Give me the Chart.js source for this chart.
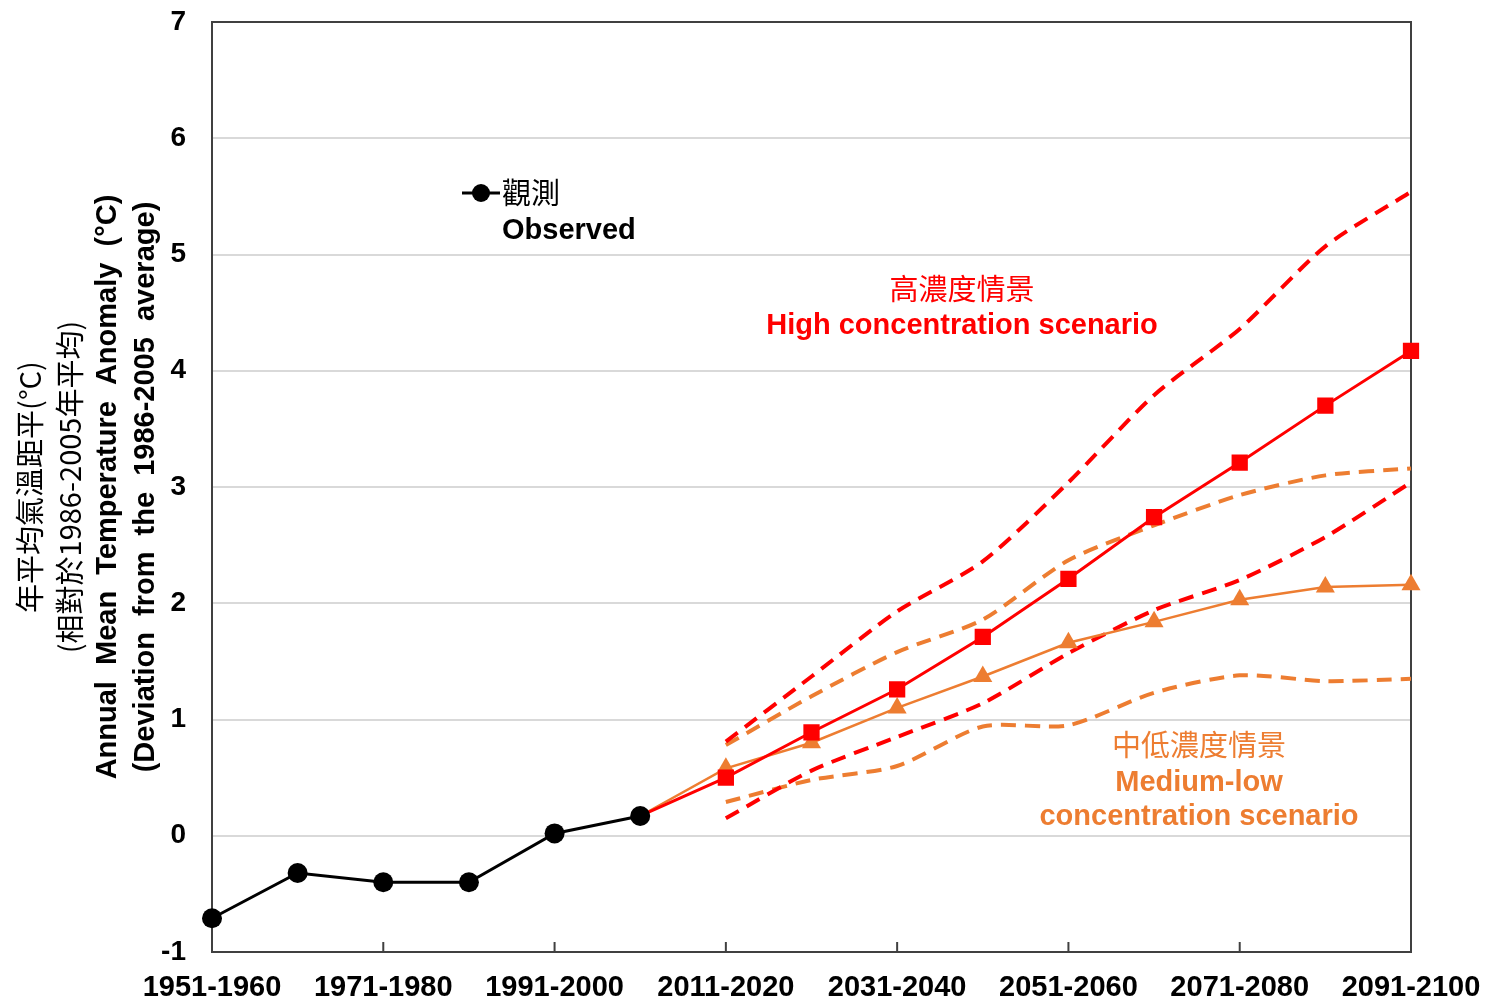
<!DOCTYPE html>
<html>
<head>
<meta charset="utf-8">
<script src="https://cdn.jsdelivr.net/npm/chart.js@4.4.0/dist/chart.umd.min.js"></script>
<style>
  html, body { margin: 0; padding: 0; background: #fff; }
  #contenedor { width: 1485px; height: 1001px; }
</style>
</head>
<body>
<div id="contenedor"><canvas id="grafica"></canvas></div>
<script>
// Décadas del eje x
const decadas = ['1951-1960', '1961-1970', '1971-1980', '1981-1990', '1991-2000',
                 '2001-2010', '2011-2020', '2021-2030', '2031-2040', '2041-2050',
                 '2051-2060', '2061-2070', '2071-2080', '2081-2090', '2091-2100'];

// Observado
const observado = [-0.71, -0.32, -0.40, -0.40, 0.02, 0.17, null, null, null, null, null, null, null, null, null];

// Escenario de alta concentración (media, rango superior e inferior)
const altoMedia    = [null, null, null, null, null, 0.17, 0.50, 0.89, 1.26, 1.71, 2.21, 2.74, 3.21, 3.70, 4.17];
const altoSuperior = [null, null, null, null, null, null, 0.81, 1.37, 1.93, 2.36, 3.04, 3.79, 4.36, 5.07, 5.54];
const altoInferior = [null, null, null, null, null, null, 0.15, 0.56, 0.85, 1.14, 1.57, 1.94, 2.20, 2.57, 3.04];

// Escenario medio-bajo
const medioMedia    = [null, null, null, null, null, 0.17, 0.58, 0.80, 1.10, 1.37, 1.66, 1.84, 2.03, 2.14, 2.16];
const medioSuperior = [null, null, null, null, null, null, 0.78, 1.20, 1.58, 1.86, 2.37, 2.67, 2.93, 3.10, 3.16];
const medioInferior = [null, null, null, null, null, null, 0.29, 0.48, 0.60, 0.94, 0.95, 1.23, 1.38, 1.33, 1.35];

// Eje y
const yMin = -1;
const yMax = 7;

const ROJO = '#ff0000';
const NARANJA = '#ed7d31';
const LATIN = "'Liberation Sans', Arial, sans-serif";
const CJK = "'Noto Sans CJK TC', 'Noto Sans CJK SC', sans-serif";

// Textos y marco dibujados a mano
const decoracion = {
    id: 'decoracion',
    beforeDatasetsDraw(chart) {
        const { ctx, chartArea: a, scales: { x } } = chart;
        ctx.save();
        ctx.strokeStyle = '#404040';
        ctx.lineWidth = 2;
        ctx.strokeRect(a.left, a.top, a.right - a.left, a.bottom - a.top);
        // marcas hacia adentro cada dos décadas
        decadas.forEach((d, i) => {
            if (i % 2 !== 0 || i === 0 || i === decadas.length - 1) return;
            const px = x.getPixelForValue(i);
            ctx.beginPath();
            ctx.moveTo(px, a.bottom);
            ctx.lineTo(px, a.bottom - 10);
            ctx.stroke();
        });
        ctx.restore();
    },
    afterDraw(chart) {
        const { ctx, chartArea: a, scales: { x } } = chart;
        ctx.save();

        // etiquetas del eje x
        ctx.fillStyle = '#000';
        ctx.font = 'bold 29px ' + LATIN;
        ctx.textAlign = 'center';
        ctx.textBaseline = 'middle';
        decadas.forEach((d, i) => {
            if (i % 2 !== 0) return;
            ctx.fillText(d, x.getPixelForValue(i), a.bottom + 36);
        });

        // título del eje y (rotado)
        const cy = (a.top + a.bottom) / 2;
        const lineas = [
            { t: '年平均氣溫距平(°C)', x: 30, f: '29px ' + CJK },
            { t: '(相對於1986-2005年平均)', x: 70, f: '29px ' + CJK },
            { t: 'Annual  Mean  Temperature  Anomaly  (°C)', x: 108, f: 'bold 29px ' + LATIN },
            { t: '(Deviation  from  the  1986-2005  average)', x: 146, f: 'bold 29px ' + LATIN }
        ];
        lineas.forEach(l => {
            ctx.save();
            ctx.translate(l.x, cy);
            ctx.rotate(-Math.PI / 2);
            ctx.font = l.f;
            ctx.fillText(l.t, 0, 0);
            ctx.restore();
        });

        // leyenda de observado
        ctx.strokeStyle = '#000';
        ctx.lineWidth = 3;
        ctx.beginPath();
        ctx.moveTo(462, 193);
        ctx.lineTo(500, 193);
        ctx.stroke();
        ctx.beginPath();
        ctx.arc(481, 193, 9, 0, Math.PI * 2);
        ctx.fill();
        ctx.textAlign = 'left';
        ctx.font = '29px ' + CJK;
        ctx.fillText('觀測', 502, 193);
        ctx.font = 'bold 29px ' + LATIN;
        ctx.fillText('Observed', 502, 231);

        // escenarios
        ctx.textAlign = 'center';
        ctx.fillStyle = ROJO;
        ctx.font = '29px ' + CJK;
        ctx.fillText('高濃度情景', 962, 289);
        ctx.font = 'bold 29px ' + LATIN;
        ctx.fillText('High concentration scenario', 962, 326);

        ctx.fillStyle = NARANJA;
        ctx.font = '29px ' + CJK;
        ctx.fillText('中低濃度情景', 1199, 745);
        ctx.font = 'bold 29px ' + LATIN;
        ctx.fillText('Medium-low', 1199, 783);
        ctx.fillText('concentration scenario', 1199, 817);

        ctx.restore();
    }
};

document.addEventListener('DOMContentLoaded', function() {
    const ctx = document.getElementById('grafica').getContext('2d');

    const discontinua = (datos, color) => ({
        data: datos,
        borderColor: color,
        borderWidth: 4,
        borderDash: [15, 9],
        pointRadius: 0,
        tension: 0.25,
        fill: false
    });

    new Chart(ctx, {
        type: 'line',
        data: {
            labels: decadas,
            datasets: [
                {
                    label: 'Observed',
                    data: observado,
                    borderColor: '#000',
                    backgroundColor: '#000',
                    borderWidth: 3,
                    pointStyle: 'circle',
                    pointRadius: 10,
                    pointBorderWidth: 0
                },
                {
                    label: 'High',
                    data: altoMedia,
                    borderColor: ROJO,
                    backgroundColor: ROJO,
                    borderWidth: 3,
                    pointStyle: 'rect',
                    pointRadius: [0, 0, 0, 0, 0, 0, 11.5, 11.5, 11.5, 11.5, 11.5, 11.5, 11.5, 11.5, 11.5],
                    pointBorderWidth: 0
                },
                {
                    label: 'Medium-low',
                    data: medioMedia,
                    borderColor: NARANJA,
                    backgroundColor: NARANJA,
                    borderWidth: 2.5,
                    pointStyle: 'triangle',
                    pointRadius: [0, 0, 0, 0, 0, 0, 11, 11, 11, 11, 11, 11, 11, 11, 11],
                    pointBorderWidth: 0
                },
                discontinua(altoSuperior, ROJO),
                discontinua(altoInferior, ROJO),
                discontinua(medioSuperior, NARANJA),
                discontinua(medioInferior, NARANJA)
            ]
        },
        options: {
            responsive: true,
            maintainAspectRatio: false,
            animation: false,
            spanGaps: false,
            layout: {
                padding: { left: 0, right: 74, top: 22, bottom: 0 }
            },
            plugins: {
                legend: { display: false },
                tooltip: { enabled: false }
            },
            scales: {
                x: {
                    offset: false,
                    grid: { display: false },
                    border: { display: false },
                    ticks: { display: false },
                    afterFit: function(scale) { scale.height = 49; }
                },
                y: {
                    min: yMin,
                    max: yMax,
                    border: { display: false },
                    grid: {
                        color: '#d9d9d9',
                        lineWidth: 2,
                        drawTicks: false
                    },
                    ticks: {
                        stepSize: 1,
                        padding: 26,
                        color: '#000',
                        font: { family: LATIN, size: 28, weight: 'bold' }
                    },
                    afterFit: function(scale) {
                        scale.width = 212;
                        scale.paddingTop = 0;
                        scale.paddingBottom = 0;
                    }
                }
            }
        },
        plugins: [decoracion]
    });
});
</script>
</body>
</html>
